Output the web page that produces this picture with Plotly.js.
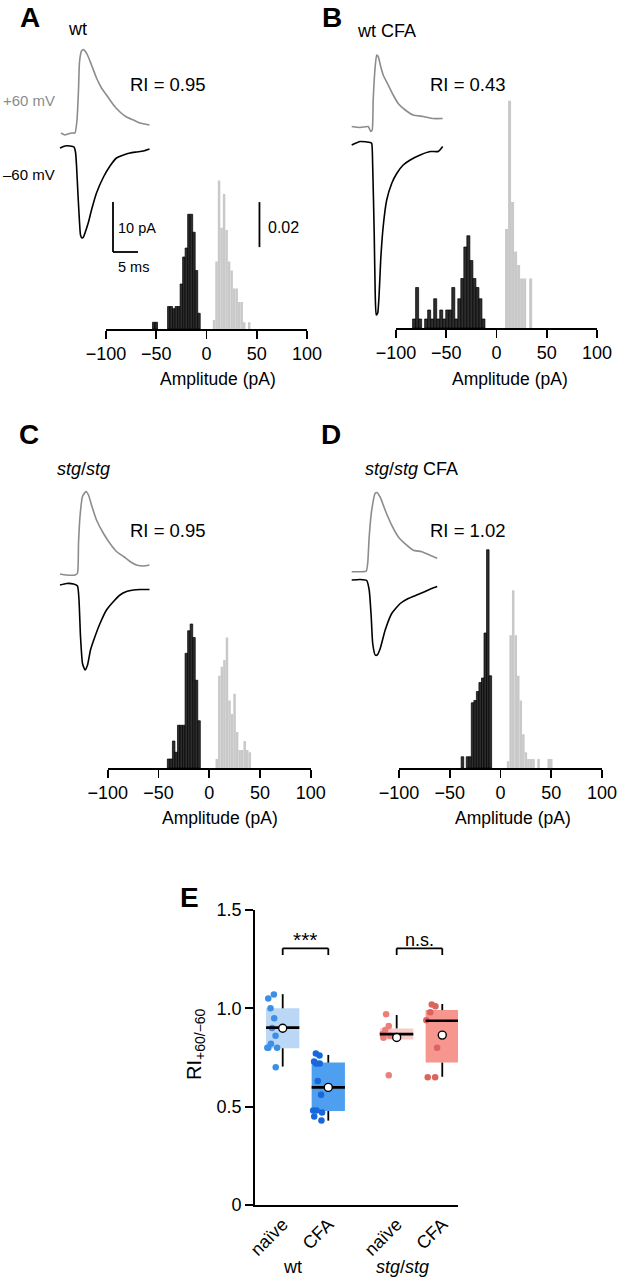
<!DOCTYPE html>
<html>
<head>
<meta charset="utf-8">
<script src="https://cdn.plot.ly/plotly-3.0.1.min.js"></script>
<style>html,body{margin:0;padding:0;background:#fff}#chart{width:619px;height:1280px}</style>
</head>
<body>
<div id="chart"></div>
<script>
// ---------------- DATA ----------------
// Amplitude histograms (bin centre in pA, probability)
const histA_negX = [-52.5,-50,-37.5,-35,-32.5,-30,-27.5,-25,-22.5,-20,-17.5,-15,-12.5,-10,-7.5];
const histA_negY = [0.003,0.003,0.010,0.010,0.009,0.010,0.010,0.020,0.032,0.036,0.051,0.051,0.043,0.026,0.007];
const histA_posX = [7.5,10,12.5,15,17.5,20,22.5,25,27.5,30,32.5,35,37.5,42.5];
const histA_posY = [0.004,0.030,0.066,0.045,0.060,0.044,0.030,0.026,0.018,0.018,0.012,0.012,0.003,0.003];

const histB_negX = [-82,-79,-76,-70,-67,-64,-61,-58,-55,-52,-49,-46,-43,-40,-37,-34,-31,-28,-25,-22,-19,-16,-13];
const histB_negY = [0.004,0.018,0.004,0.004,0.008,0.004,0.013,0.004,0.008,0.004,0.008,0.008,0.018,0.004,0.013,0.022,0.036,0.041,0.030,0.022,0.018,0.013,0.004];
const histB_posX = [10,13,16,19,22,25,28,34];
const histB_posY = [0.044,0.101,0.056,0.034,0.028,0.022,0.022,0.022];

const histC_negX = [-40,-37.5,-35,-32.5,-30,-27.5,-25,-22.5,-20,-17.5,-15,-12.5,-10];
const histC_negY = [0.004,0.004,0.012,0.007,0.019,0.019,0.019,0.051,0.061,0.064,0.058,0.039,0.021];
const histC_posX = [7.5,10,12.5,15,17.5,20,22.5,25,27.5,30,32.5,35,37.5,40];
const histC_posY = [0.004,0.041,0.045,0.048,0.058,0.030,0.024,0.033,0.016,0.008,0.008,0.012,0.008,0.007];

const histD_negX = [-37.5,-32.5,-30,-27.5,-25,-22.5,-20,-17.5,-15,-12.5,-10];
const histD_negY = [0.005,0.005,0.005,0.029,0.030,0.034,0.038,0.040,0.060,0.097,0.041];
const histD_posX = [7.5,10,12.5,15,17.5,20,22.5,25,27.5,30,32.5,37.5,47.5,50];
const histD_posY = [0.003,0.059,0.079,0.059,0.041,0.030,0.015,0.007,0.004,0.004,0.004,0.004,0.004,0.004];

const binWidths = [2.5, 3, 2.5, 2.5];
const ampTicks = [-100,-50,0,50,100];

// Example currents (time ms, current pA relative to baseline)
const traceA_posT = [0.2,1.0,1.6,2.4,3.0,3.4,3.7,3.9,4.3,4.7,5.0,5.5,6.3,7.3,8.3,9.3,10.7,12.0,13.3,14.7,16.0,17.9];
const traceA_posI = [0.2,-0.2,0,0.2,0.2,2.8,8.8,14.4,16.6,16.9,16.6,15.8,13.8,11.2,9.2,7.8,5.8,4.4,3.4,2.8,2.2,1.8];
const traceA_negT = [0,1.0,2.0,2.8,3.1,3.3,3.6,3.9,4.1,4.4,4.7,5.0,5.7,6.3,7.3,8.7,10.0,11.3,12.7,14.0,15.3,16.7,17.9];
const traceA_negI = [-0.2,0.2,0.2,0,-1,-3.6,-9.6,-15,-17.6,-18.2,-18,-17.2,-15,-12.6,-9.2,-6,-3.8,-2.2,-1.6,-1.2,-1,-0.8,-0.4];

const traceB_posT = [0,1.7,3.3,3.8,4.1,4.3,4.7,5.0,5.3,5.8,6.3,7.3,8.3,9.3,10.7,12.3,14.3,16.3,18.2];
const traceB_posI = [0.1,-0.1,0.1,-0.9,-0.6,5.4,12.1,14.4,14.1,12.1,10.4,8.4,6.4,4.7,3.4,2.4,2.1,1.7,1.7];
const traceB_negT = [0,1.7,3.7,4.0,4.2,4.5,4.7,4.9,5.2,5.5,5.8,6.3,7.0,8.0,9.0,10.3,11.7,13.7,15.7,17.3,18.2];
const traceB_negI = [-0.5,0.2,0,-0.2,-4.8,-18.1,-30.1,-34.5,-34.1,-30.1,-23.5,-16.8,-11.5,-8.2,-6.2,-4.5,-3.5,-2.5,-1.8,-1.8,-0.8];

const traceC_posT = [0,1.3,3.0,3.5,3.7,4.0,4.5,5.2,5.7,6.3,7.3,8.7,10.0,11.3,12.7,14.0,15.3,16.7,17.9];
const traceC_posI = [0.2,0,0,0.4,6.3,11.7,15.7,16.7,16,14,11,8.3,6.3,4.7,3.7,2.7,2,1.8,2];
const traceC_negT = [0,1.3,2.7,3.5,3.8,4.1,4.5,5.0,5.5,6.1,7.0,8.0,9.3,10.7,12.0,13.3,14.7,16.0,17.9];
const traceC_negI = [-0.2,0.1,0,-0.4,-3.2,-10.5,-15.9,-17.2,-16.2,-13.2,-10.5,-7.9,-5.2,-3.5,-2.2,-1.5,-1.2,-1.1,-1.1];

const traceD_posT = [0,1.7,2.9,3.2,3.5,4.0,4.7,5.1,5.7,6.7,8.0,9.3,11.0,12.3,14.0,15.7,17.1];
const traceD_posI = [0,0,0.1,1.7,7,12.3,15.7,15.8,14.9,12.3,9.3,7,5.3,4.3,4,3.3,2.7];
const traceD_negT = [0,1.7,3.0,3.5,3.9,4.2,4.7,5.1,5.7,6.7,8.0,9.7,11.3,13.0,14.7,16.0,17.1];
const traceD_negI = [0,0.1,-0.1,-2,-7.3,-12.7,-15,-15,-13.7,-10,-6.7,-4.7,-3.7,-3,-2.3,-1.7,-1.3];

const panelLetters = ['A','B','C','D','E'];
const panelTitles = ['wt','wt CFA','<i>stg</i>/<i>stg</i>','<i>stg</i>/<i>stg</i> CFA'];
const riValues = ['0.95','0.43','0.95','1.02'];

// Panel E: rectification index
const groupTicks = ['naïve','CFA','naïve','CFA'];
const genotypeLabels = ['wt','<i>stg</i>/<i>stg</i>'];
const riQ1 = [0.797,0.478,0.842,0.724];
const riMedian = [0.902,0.598,0.869,0.937];
const riQ3 = [1.000,0.724,0.898,0.991];
const riLowWhisker = [0.704,0.429,0.842,0.652];
const riHighWhisker = [1.072,0.763,0.966,1.022];
const riMean = [0.899,0.598,0.852,0.864];
const riPts_wtNaive = [1.07,1.05,1.00,0.95,0.90,0.86,0.82,0.80,0.80,0.80,0.70];
const riPts_wtCFA = [0.77,0.76,0.73,0.72,0.72,0.63,0.56,0.48,0.48,0.47,0.45,0.43];
const riPts_stgNaive = [0.97,0.91,0.89,0.87,0.86,0.85,0.66];
const riPts_stgCFA = [1.02,1.01,0.98,0.94,0.80,0.65,0.65];
const riTickVals = [0,0.5,1,1.5];
const riTickText = ['0','0.5','1.0','1.5'];
const sigLabels = ['***','n.s.'];

// ---------------- LAYOUT CONSTANTS ----------------
const W = 619, H = 1280;
const FONT = 'Liberation Sans, Arial, Helvetica, sans-serif';
const PX_PER_PROB = 45/0.02;   // 0.02 scale bar = 45 px
const PXU = 5;                  // traces: 1 ms = 1 pA = 5 px
const pxX = p => p/W;
const pxY = p => 1 - p/H;
const axKey = (l,n) => l+'axis'+(n===1?'':n);
const axRef = (l,n) => l+(n===1?'':n);

const panelCfg = [
  {hx:[106,307],   hb:329, ht:95,  tbox:[0,300,20,345],   t0:60,    gBase:134,   bBase:147},
  {hx:[396,597],   hb:328, ht:85,  tbox:[310,619,20,345], t0:351.7, gBase:127,   bBase:142.5},
  {hx:[107.7,310.7],hb:768,ht:540, tbox:[0,300,460,785],  t0:60,    gBase:575,   bBase:584},
  {hx:[399,602],   hb:768, ht:535, tbox:[310,619,460,785],t0:351.7, gBase:571.7, bBase:580}
];
const histNeg = [[histA_negX,histA_negY],[histB_negX,histB_negY],[histC_negX,histC_negY],[histD_negX,histD_negY]];
const histPos = [[histA_posX,histA_posY],[histB_posX,histB_posY],[histC_posX,histC_posY],[histD_posX,histD_posY]];
const tracePos = [[traceA_posT,traceA_posI],[traceB_posT,traceB_posI],[traceC_posT,traceC_posI],[traceD_posT,traceD_posI]];
const traceNeg = [[traceA_negT,traceA_negI],[traceB_negT,traceB_negI],[traceC_negT,traceC_negI],[traceD_negT,traceD_negI]];

const GREY_TRACE = '#8c8c8c';
const data = [];
const layout = {
  width:W, height:H, margin:{l:0,r:0,t:0,b:0},
  paper_bgcolor:'#ffffff', plot_bgcolor:'rgba(0,0,0,0)',
  showlegend:false, barmode:'overlay', boxmode:'overlay', hovermode:false,
  font:{family:FONT, size:18, color:'#000'},
  annotations:[], shapes:[]
};
function ann(text, px, py, o){
  return Object.assign({text:text, x:pxX(px), y:pxY(py), xref:'paper', yref:'paper', showarrow:false,
    xanchor:'center', yanchor:'middle', font:{family:FONT, size:18, color:'#000'}}, o||{});
}

panelCfg.forEach((p,i)=>{
  const hn = i+1, tn = i+5;
  layout[axKey('x',hn)] = {domain:[pxX(p.hx[0]),pxX(p.hx[1])], range:[-100,100], anchor:axRef('y',hn),
    showline:true, linecolor:'#000', linewidth:1.8, ticks:'outside', ticklen:8, tickwidth:1.8, tickcolor:'#000',
    tickmode:'array', tickvals:ampTicks, tickfont:{family:FONT,size:18,color:'#000'},
    showgrid:false, zeroline:false, fixedrange:true};
  layout[axKey('y',hn)] = {domain:[pxY(p.hb),pxY(p.ht)], range:[0,(p.hb-p.ht)/PX_PER_PROB], anchor:axRef('x',hn),
    visible:false, fixedrange:true};
  layout[axKey('x',tn)] = {domain:[pxX(p.tbox[0]),pxX(p.tbox[1])], range:[(p.tbox[0]-p.t0)/PXU,(p.tbox[1]-p.t0)/PXU],
    anchor:axRef('y',tn), visible:false, fixedrange:true};
  layout[axKey('y',tn)] = {domain:[pxY(p.tbox[3]),pxY(p.tbox[2])], range:[(p.gBase-p.tbox[3])/PXU,(p.gBase-p.tbox[2])/PXU],
    anchor:axRef('x',tn), visible:false, fixedrange:true};

  data.push({type:'bar', x:histPos[i][0], y:histPos[i][1], width:binWidths[i], xaxis:axRef('x',hn), yaxis:axRef('y',hn),
    marker:{color:'#c9c9c9', line:{width:0}}});
  data.push({type:'bar', x:histNeg[i][0], y:histNeg[i][1], width:binWidths[i], xaxis:axRef('x',hn), yaxis:axRef('y',hn),
    marker:{color:'#2e2e2e', line:{color:'#000', width:0.7}}});

  const off = (p.gBase - p.bBase)/PXU;
  data.push({type:'scatter', mode:'lines', x:tracePos[i][0], y:tracePos[i][1], xaxis:axRef('x',tn), yaxis:axRef('y',tn),
    line:{color:GREY_TRACE, width:1.6, shape:'spline', smoothing:0.5}, cliponaxis:false});
  data.push({type:'scatter', mode:'lines', x:traceNeg[i][0], y:traceNeg[i][1].map(v=>v+off), xaxis:axRef('x',tn), yaxis:axRef('y',tn),
    line:{color:'#000', width:1.6, shape:'spline', smoothing:0.5}, cliponaxis:false});
});

// Text for panels A-D
const letterPos = [[30,17],[332,17],[29,434],[331,434],[189,897]];
panelLetters.forEach((L,i)=>layout.annotations.push(ann('<b>'+L+'</b>', letterPos[i][0], letterPos[i][1], {font:{family:FONT,size:28,color:'#000'}})));
const titlePos = [[77,29],[386,31],[83,469],[411,469]];
panelTitles.forEach((t,i)=>layout.annotations.push(ann(t, titlePos[i][0], titlePos[i][1])));
const riPos = [[168,84],[468,84],[168,530],[468,530]];
riValues.forEach((v,i)=>layout.annotations.push(ann('RI = '+v, riPos[i][0], riPos[i][1], {font:{family:FONT,size:18.5,color:'#000'}})));
const ampTitlePos = [[217.5,379],[510,379],[220,818],[513,818]];
ampTitlePos.forEach(q=>layout.annotations.push(ann('Amplitude (pA)', q[0], q[1], {font:{family:FONT,size:17.5,color:'#000'}})));
layout.annotations.push(ann('+60 mV', 57, 101, {xanchor:'right', font:{family:FONT,size:15,color:GREY_TRACE}}));
layout.annotations.push(ann('–60 mV', 57, 174, {xanchor:'right', font:{family:FONT,size:15,color:'#000'}}));
layout.annotations.push(ann('10 pA', 116, 228, {xanchor:'left', font:{family:FONT,size:14.5,color:'#000'}}));
layout.annotations.push(ann('5 ms', 116, 267, {xanchor:'left', font:{family:FONT,size:14.5,color:'#000'}}));
layout.annotations.push(ann('0.02', 266, 228, {xanchor:'left', font:{family:FONT,size:16,color:'#000'}}));

// Scale bars (panel A)
const scaleProb = 0.02, scaleProbBase = 0.0364, scaleProbAmp = 52.7;
layout.shapes.push({type:'line', xref:'x', yref:'y', x0:scaleProbAmp, x1:scaleProbAmp, y0:scaleProbBase, y1:scaleProbBase+scaleProb, line:{color:'#000',width:1.8}});
const sbT = 10.6, sbI = -23.6, sbCurrent = 10, sbTime = 5;
layout.shapes.push({type:'line', xref:'x5', yref:'y5', x0:sbT, x1:sbT, y0:sbI, y1:sbI+sbCurrent, line:{color:'#000',width:1.8}});
layout.shapes.push({type:'line', xref:'x5', yref:'y5', x0:sbT, x1:sbT+sbTime, y0:sbI, y1:sbI, line:{color:'#000',width:1.8}});

// ---------------- PANEL E ----------------
const boxPos = [1,2,3.5,4.5];
const BOXW = 0.73;
const boxFill = ['#bad7f6','#4f9ff0','#f9ccc8','#f6968f'];
const dotColor = ['#3d8fe6','#1668dc','#ec7f79','#dc645e'];
layout.xaxis9 = {domain:[pxX(255),pxX(458)], range:[0.3925,4.845], anchor:'y9', showline:true, linecolor:'#000', linewidth:1.8,
  ticks:'', tickmode:'array', tickvals:boxPos, ticktext:groupTicks, tickangle:-45,
  tickfont:{family:FONT,size:18,color:'#000'}, showgrid:false, zeroline:false, fixedrange:true};
layout.yaxis9 = {domain:[pxY(1205),pxY(910)], range:[0,1.5], anchor:'x9', showline:true, linecolor:'#000', linewidth:1.8,
  ticks:'outside', ticklen:8, tickwidth:1.8, tickcolor:'#000', tickmode:'array', tickvals:riTickVals, ticktext:riTickText,
  tickfont:{family:FONT,size:18,color:'#000'}, showgrid:false, zeroline:false, fixedrange:true};

data.push({type:'bar', x:boxPos, base:riQ1, y:riQ3.map((v,i)=>v-riQ1[i]), width:BOXW, xaxis:'x9', yaxis:'y9',
  marker:{color:boxFill, line:{width:0}}});
const ptsAll = [riPts_wtNaive, riPts_wtCFA, riPts_stgNaive, riPts_stgCFA];
ptsAll.forEach((pts,i)=>{
  data.push({type:'box', y:pts, x0:boxPos[i], width:BOXW, xaxis:'x9', yaxis:'y9', boxpoints:'all', jitter:0.4, pointpos:-0.62,
    fillcolor:'rgba(0,0,0,0)', line:{width:0, color:'rgba(0,0,0,0)'}, whiskerwidth:0,
    marker:{color:dotColor[i], size:6.5, line:{width:0}}});
});
const wx=[], wy=[], mx=[], my=[];
boxPos.forEach((p,i)=>{
  wx.push(p,p,null,p,p,null); wy.push(riLowWhisker[i],riQ1[i],null,riQ3[i],riHighWhisker[i],null);
  mx.push(p-BOXW/2,p+BOXW/2,null); my.push(riMedian[i],riMedian[i],null);
});
data.push({type:'scatter', mode:'lines', x:wx, y:wy, xaxis:'x9', yaxis:'y9', line:{color:'#000',width:1.8}, connectgaps:false});
data.push({type:'scatter', mode:'lines', x:mx, y:my, xaxis:'x9', yaxis:'y9', line:{color:'#000',width:2.6}, connectgaps:false});
data.push({type:'scatter', mode:'markers', x:boxPos, y:riMean, xaxis:'x9', yaxis:'y9',
  marker:{color:'#fff', size:8, line:{color:'#000', width:1.4}}});

// significance brackets
const brTop = 1.305, brLeg = 1.271;
[[0,1],[2,3]].forEach((pr,k)=>{
  const a = boxPos[pr[0]], b = boxPos[pr[1]];
  layout.shapes.push({type:'line', xref:'x9', yref:'y9', x0:a, x1:b, y0:brTop, y1:brTop, line:{color:'#000',width:1.8}});
  layout.shapes.push({type:'line', xref:'x9', yref:'y9', x0:a, x1:a, y0:brTop, y1:brLeg, line:{color:'#000',width:1.8}});
  layout.shapes.push({type:'line', xref:'x9', yref:'y9', x0:b, x1:b, y0:brTop, y1:brLeg, line:{color:'#000',width:1.8}});
  layout.annotations.push({text:sigLabels[k], x:(a+b)/2, y:k===0?1.352:1.347, xref:'x9', yref:'y9', showarrow:false,
    xanchor:'center', yanchor:'middle', font:{family:FONT,size:k===0?21:18,color:'#000'}});
});
layout.annotations.push(ann('RI<sub>+60/−60</sub>', 195, 1044, {textangle:-90, font:{family:FONT,size:20,color:'#000'}}));
const genoPos = [[292,1267],[402,1267]];
genotypeLabels.forEach((g,i)=>layout.annotations.push(ann(g, genoPos[i][0], genoPos[i][1])));

Plotly.newPlot('chart', data, layout, {staticPlot:true, displayModeBar:false});
</script>
</body>
</html>
